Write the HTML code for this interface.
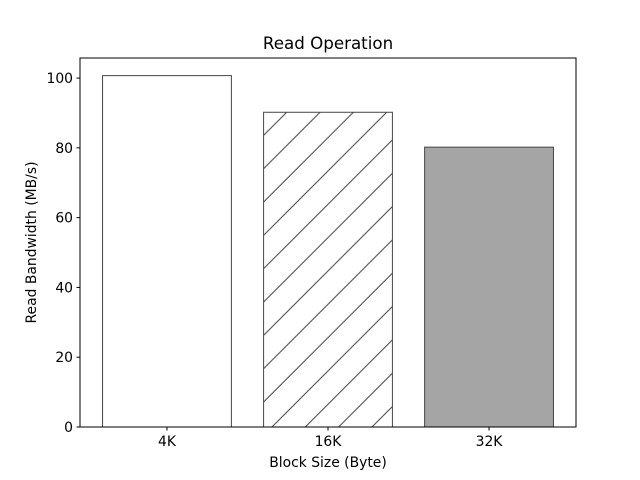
<!DOCTYPE html>
<html><head><meta charset="utf-8"><style>body{margin:0;background:#fff}svg{display:block;font-family:"DejaVu Sans","Liberation Sans",sans-serif}</style></head>
<body>
<svg id="chart" width="640" height="480" viewBox="0 0 640 480">
<defs>
<pattern id="hatch" patternUnits="userSpaceOnUse" x="-1" y="0" width="33.33" height="33.33">
<path d="M-5,38.33 L38.33,-5 M-5,5 L5,-5 M28.33,38.33 L38.33,28.33" stroke="#444" stroke-width="1"/>
</pattern>
</defs>
<g id="plot"></g>
</svg>
<script>
const categories = ["4K", "16K", "32K"];
const values = [100.7, 90.2, 80.2];
const fills = ["#ffffff", "url(#hatch)", "#a5a5a5"];
const yTicks = [0, 20, 40, 60, 80, 100];

const L = 80, R = 576, T = 58, B = 427;
const xMin = -0.54, xMax = 2.54, yMax = 105.75;
const xs = v => L + (v - xMin) / (xMax - xMin) * (R - L);
const ys = v => B - v / yMax * (B - T);
const NS = "http://www.w3.org/2000/svg";
const g = document.getElementById("plot");
function mk(tag, attrs, text) {
  const e = document.createElementNS(NS, tag);
  for (const k in attrs) e.setAttribute(k, attrs[k]);
  if (text !== undefined) e.textContent = text;
  g.appendChild(e);
  return e;
}
categories.forEach((c, i) => {
  const x0 = xs(i - 0.4), x1 = xs(i + 0.4);
  const r = mk("rect", {x: x0, y: ys(values[i]), width: x1 - x0, height: B - ys(values[i]), fill: fills[i], stroke: "#444", "stroke-width": 1});
  
  
  const tk = mk("line", {x1: xs(i), x2: xs(i), y1: B, y2: B + 3.5, stroke: "#000"});
  
  
  const t = mk("text", {x: xs(i), y: B + 19, "text-anchor": "middle", "font-size": 13.9}, c);
  
  
});
yTicks.forEach(v => {
  const tk = mk("line", {x1: L - 3.5, x2: L, y1: ys(v), y2: ys(v), stroke: "#000"});
  
  
  const t = mk("text", {x: L - 7, y: ys(v) + 5, "text-anchor": "end", "font-size": 13.9}, v);
  
  
});
const frame = mk("rect", {x: L, y: T, width: R - L, height: B - T, fill: "none", stroke: "#000", "stroke-width": 1});


const title = mk("text", {x: (L + R) / 2, y: 49, "text-anchor": "middle", "font-size": 16.7}, "Read Operation");


const xt = mk("text", {x: (L + R) / 2, y: 467, "text-anchor": "middle", "font-size": 13.9}, "Block Size (Byte)");


const yt = mk("text", {x: 36, y: (T + B) / 2, "text-anchor": "middle", "font-size": 13.9, transform: "rotate(-90 36 " + (T + B) / 2 + ")"}, "Read Bandwidth (MB/s)");


</script>
</body></html>
